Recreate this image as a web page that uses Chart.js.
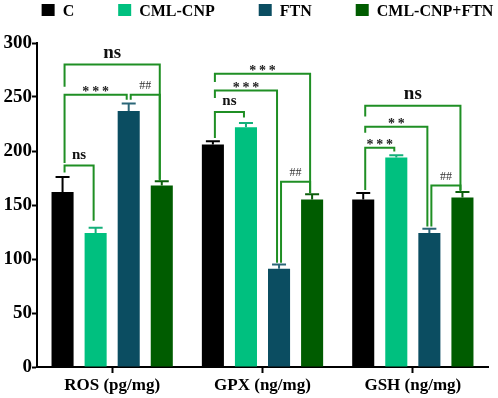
<!DOCTYPE html>
<html>
<head>
<meta charset="utf-8">
<script src="https://cdn.jsdelivr.net/npm/chart.js@4.4.1/dist/chart.umd.min.js"></script>
<style>
  html, body { margin: 0; padding: 0; background: #fff; }
  #wrap { width: 498px; height: 398px; position: relative; }
</style>
</head>
<body>
<div id="wrap"><canvas id="chart"></canvas></div>
<script>
// ---- data ----
const categories = ['ROS (pg/mg)', 'GPX (ng/mg)', 'GSH (ng/mg)'];
const seriesNames = ['C', 'CML-CNP', 'FTN', 'CML-CNP+FTN'];
const valC      = [162, 206, 155];
const valCNP    = [124, 222, 194];
const valFTN    = [237, 91, 124];
const valCNPFTN = [168, 155, 157];
const errC      = [14, 3, 6];
const errCNP    = [5, 4, 2];
const errFTN    = [7, 4, 4];
const errCNPFTN = [4, 5, 5];
const yTicks = [0, 50, 100, 150, 200, 250, 300];

// significance brackets: group, left series, right series, bar level, left end, right end (all in y units), label
const brackets = [
  [0, 0, 3, 280, 259.5, 172.5, 'ns'],
  [0, 0, 2, 252, 189, 247.5, '***'],
  [0, 2, 3, 252, 247.5, 173.5, '##'],
  [0, 0, 1, 186.5, 180, 135.5, 'ns'],
  [1, 0, 3, 271.5, 264, 161, '***'],
  [1, 0, 2, 256, 249, 96.5, '***'],
  [1, 0, 1, 236, 212, 231, 'ns'],
  [1, 2, 3, 171.5, 96.5, 161, '##'],
  [2, 0, 3, 242, 232, 164, 'ns'],
  [2, 0, 2, 222.5, 217, 130, '**'],
  [2, 0, 1, 203, 164, 199.5, '***'],
  [2, 2, 3, 168, 130, 162.5, '##']
];

const colors = ['#000000', '#00c07f', '#0b4d61', '#005c00'];
const capColors = ['#000000', '#14b07a', '#2b6678', '#0b5e0b'];
const values = [valC, valCNP, valFTN, valCNPFTN];
const errors = [errC, errCNP, errFTN, errCNPFTN];
const SERIF = '"Liberation Serif", "Times New Roman", serif';

// ---- plugins ----
const errorBars = {
  id: 'errorBars',
  afterDatasetsDraw(chart) {
    const ctx = chart.ctx, y = chart.scales.y;
    ctx.save();
    ctx.lineWidth = 2;
    chart.data.datasets.forEach((ds, i) => {
      const meta = chart.getDatasetMeta(i);
      meta.data.forEach((bar, j) => {
        const top = y.getPixelForValue(ds.data[j] + errors[i][j]);
        ctx.strokeStyle = capColors[i];
        ctx.beginPath();
        ctx.moveTo(bar.x, bar.y);
        ctx.lineTo(bar.x, top);
        ctx.moveTo(bar.x - 7, top);
        ctx.lineTo(bar.x + 7, top);
        ctx.stroke();
      });
    });
    ctx.restore();
  }
};

const sigBrackets = {
  id: 'sigBrackets',
  afterDatasetsDraw(chart) {
    const ctx = chart.ctx, y = chart.scales.y;
    ctx.save();
    brackets.forEach(([g, a, b, lvl, l, r, txt]) => {
      const x1 = chart.getDatasetMeta(a).data[g].x + 2;
      const x2 = chart.getDatasetMeta(b).data[g].x - 2;
      const yl = y.getPixelForValue(lvl);
      ctx.strokeStyle = '#1f8f24';
      ctx.lineWidth = 2;
      ctx.beginPath();
      ctx.moveTo(x1, y.getPixelForValue(l));
      ctx.lineTo(x1, yl);
      ctx.lineTo(x2, yl);
      ctx.lineTo(x2, y.getPixelForValue(r));
      ctx.stroke();

      ctx.textAlign = 'center';
      ctx.textBaseline = 'alphabetic';
      const mx = (x1 + x2) / 2;
      if (txt === 'ns') {
        ctx.fillStyle = '#111';
        ctx.font = 'bold ' + (b - a === 3 ? 19 : 15) + 'px ' + SERIF;
        ctx.fillText(txt, mx, yl - 7);
      } else if (txt.startsWith('*')) {
        ctx.fillStyle = '#222';
        ctx.font = 'bold 14px ' + SERIF;
        ctx.fillText(txt.split('').join('\u2009'), mx, yl + 1);
      } else {
        ctx.fillStyle = '#333';
        ctx.font = '12px ' + SERIF;
        ctx.fillText(txt, mx, yl - 6);
      }
    });
    ctx.restore();
  }
};

const topLegend = {
  id: 'topLegend',
  afterDraw(chart) {
    const ctx = chart.ctx;
    ctx.save();
    ctx.font = 'bold 16px ' + SERIF;
    const box = 13, gapText = 8, gapItem = 44;
    const widths = seriesNames.map(n => box + gapText + ctx.measureText(n).width);
    const total = widths.reduce((s, w) => s + w, 0) + gapItem * (widths.length - 1);
    let x = (chart.chartArea.left + chart.chartArea.right) / 2 + 5 - total / 2;
    seriesNames.forEach((n, i) => {
      ctx.fillStyle = colors[i];
      ctx.fillRect(x, 4, box, 12);
      ctx.fillStyle = '#000';
      ctx.textBaseline = 'alphabetic';
      ctx.textAlign = 'left';
      ctx.fillText(n, x + box + gapText, 16);
      x += widths[i] + gapItem;
    });
    ctx.restore();
  }
};

// ---- chart ----
new Chart(document.getElementById('chart'), {
  type: 'bar',
  data: {
    labels: categories,
    datasets: seriesNames.map((n, i) => ({
      label: n,
      data: values[i],
      backgroundColor: colors[i],
      borderWidth: 0,
      categoryPercentage: 0.88,
      barPercentage: 0.667
    }))
  },
  options: {
    responsive: true,
    maintainAspectRatio: false,
    animation: false,
    layout: { padding: { top: 43, right: 10, left: 0, bottom: 0 } },
    plugins: { legend: { display: false }, tooltip: { enabled: false } },
    scales: {
      x: {
        afterFit(s) { s.height = 31; },
        grid: { display: true, drawOnChartArea: false, offset: false, tickLength: 6, tickWidth: 2, tickColor: '#000' },
        border: { display: true, width: 2, color: '#000' },
        ticks: { color: '#000', padding: 2, font: { family: SERIF, size: 17, weight: 'bold' } }
      },
      y: {
        min: 0, max: 300,
        afterFit(s) { s.width = 37; },
        afterBuildTicks(s) { s.ticks = yTicks.map(v => ({ value: v })); },
        grid: { display: true, drawOnChartArea: false, tickLength: 5, tickWidth: 2, tickColor: '#000' },
        border: { display: true, width: 2, color: '#000' },
        ticks: { color: '#000', padding: 0, font: { family: SERIF, size: 19, weight: 'bold' } }
      }
    }
  },
  plugins: [errorBars, sigBrackets, topLegend]
});
</script>
</body>
</html>
